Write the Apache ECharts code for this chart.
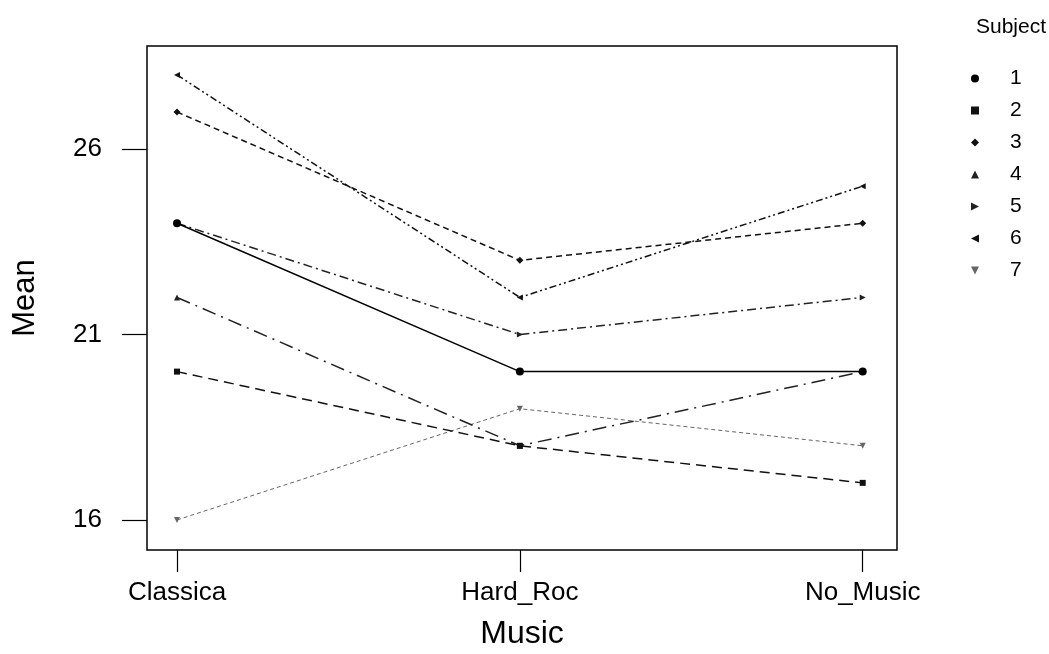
<!DOCTYPE html>
<html>
<head>
<meta charset="utf-8">
<script src="https://cdn.jsdelivr.net/npm/echarts@6/dist/echarts.min.js"></script>
<style>
    html, body { margin: 0; padding: 0; background: #fff; }
    #chart { width: 1049px; height: 654px; }
</style>
</head>
<body>
<div id="chart"></div>
<script>
// data
var categories = ['Classica', 'Hard_Roc', 'No_Music'];
var subjects = ['1', '2', '3', '4', '5', '6', '7'];
var s1 = [24, 20, 20];
var s2 = [20, 18, 17];
var s3 = [27, 23, 24];
var s4 = [22, 18, 20];
var s5 = [24, 21, 22];
var s6 = [28, 22, 25];
var s7 = [16, 19, 18];
var yTicks = [16, 21, 26];

var seriesData = [s1, s2, s3, s4, s5, s6, s7];

// marker per subject
var symbols = [
    'circle',
    'rect',
    'diamond',
    'triangle',
    'path://M0,0L10,5L0,10Z',
    'path://M10,0L0,5L10,10Z',
    'path://M0,0L10,0L5,10Z'
];
var dashes = ['solid', [10, 6], [6, 4], [14, 6, 2, 6], [9, 4, 2, 4], [7, 3, 2, 3, 2, 3], [4, 3]];
var colors = ['#000', '#111', '#111', '#222', '#222', '#111', '#666'];
var sizes = [8, 6, 7, 6, 6, 6, 6];

var myChart = echarts.init(document.getElementById('chart'));

var series = seriesData.map(function (vals, i) {
    return {
        name: subjects[i],
        type: 'line',
        data: vals.map(function (v, j) { return [j, v]; }),
        symbol: symbols[i],
        symbolSize: sizes[i],
        showSymbol: true,
        lineStyle: { color: colors[i], width: i === 6 ? 1 : 1.5, type: dashes[i] },
        itemStyle: { color: colors[i] },
        z: 10 - i
    };
});

var option = {
    animation: false,
    backgroundColor: '#fff',
    textStyle: { fontFamily: 'Liberation Sans, Arial, sans-serif', color: '#000' },
    title: {
        text: 'Subject',
        left: 971,
        top: 12,
        textStyle: { fontSize: 21, fontWeight: 'normal', color: '#000', fontFamily: 'Liberation Sans' }
    },
    legend: {
        orient: 'vertical',
        left: 966,
        top: 63,
        itemWidth: 8,
        itemHeight: 8,
        itemGap: 11,
        data: subjects.map(function (s, i) {
            return { name: s, icon: symbols[i] };
        }),
        textStyle: { fontSize: 21, lineHeight: 20, color: '#000', padding: [0, 0, 0, 26], fontFamily: 'Liberation Sans' }
    },
    grid: {
        show: true,
        left: 147,
        top: 46,
        right: 152,
        bottom: 104,
        outerBoundsMode: 'none',
        containLabel: false,
        borderColor: '#000',
        borderWidth: 1.5
    },
    xAxis: {
        type: 'value',
        min: -0.0875,
        max: 2.1,
        name: 'Music',
        nameLocation: 'middle',
        nameGap: 68,
        nameTextStyle: { fontSize: 32, color: '#000' },
        axisLine: { show: false, onZero: false },
        splitLine: { show: false },
        axisTick: { show: true, inside: false, length: 22, customValues: [0, 1, 2], lineStyle: { color: '#000', width: 1.2 } },
        axisLabel: {
            customValues: [0, 1, 2],
            margin: 30,
            fontSize: 26,
            color: '#000',
            formatter: function (v) { return categories[Math.round(v)]; }
        }
    },
    yAxis: {
        type: 'value',
        min: 15.19,
        max: 28.78,
        name: 'Mean',
        nameLocation: 'middle',
        nameGap: 106,
        nameTextStyle: { fontSize: 31, color: '#000' },
        axisLine: { show: false, onZero: false },
        splitLine: { show: false },
        axisTick: { show: true, inside: false, length: 25, customValues: yTicks, lineStyle: { color: '#000', width: 1.2 } },
        axisLabel: {
            customValues: yTicks,
            margin: 45,
            fontSize: 26,
            color: '#000'
        }
    },
    series: series
};

myChart.setOption(option);
</script>
</body>
</html>
